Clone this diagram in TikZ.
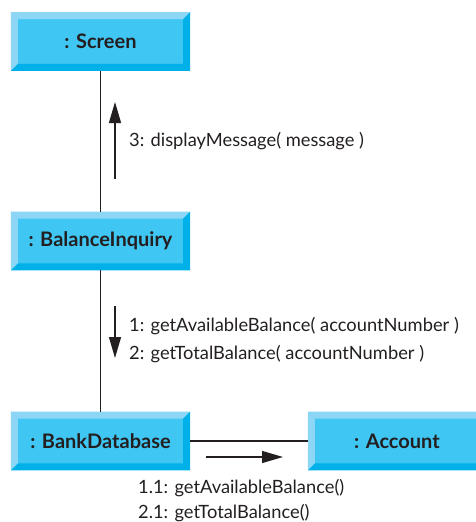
\documentclass[tikz,border=0pt]{standalone}
\usepackage{fontspec}
\setmainfont{Lato}
\usetikzlibrary{arrows.meta,calc}
\definecolor{bevlight}{HTML}{8ED6F6}
\definecolor{bevdark}{HTML}{00B0E8}
\definecolor{bevface}{HTML}{40C6F2}
\definecolor{txt}{HTML}{231F20}
\tikzset{
  obj/.style={draw=none, fill=bevface, inner sep=0pt, minimum width=179pt, minimum height=58.5pt, font=\fontsize{20}{22}\selectfont\bfseries, text=txt},
  conn/.style={line width=1.2pt, draw=txt},
  msgarrow/.style={line width=1.2pt, draw=txt, -{Triangle[length=21pt,width=12pt]}},
  msglabel/.style={anchor=west, inner sep=0pt, font=\fontsize{18.3}{28}\selectfont, text=txt, align=left},
  msglabelb/.style={msglabel, font=\fontsize{18.3}{25.5}\selectfont}
}
\newcommand\bevelit[1]{%
  \fill[bevlight] (#1.north west) -- (#1.north east) -- ([shift={(-7pt,-7pt)}]#1.north east) -- ([shift={(7pt,-7pt)}]#1.north west) -- cycle;
  \fill[bevlight] (#1.north west) -- (#1.south west) -- ([shift={(7pt,7pt)}]#1.south west) -- ([shift={(7pt,-7pt)}]#1.north west) -- cycle;
  \fill[bevdark] (#1.north east) -- (#1.south east) -- ([shift={(-7pt,7pt)}]#1.south east) -- ([shift={(-7pt,-7pt)}]#1.north east) -- cycle;
  \fill[bevdark] (#1.south west) -- (#1.south east) -- ([shift={(-7pt,7pt)}]#1.south east) -- ([shift={(7pt,7pt)}]#1.south west) -- cycle;
}
\begin{document}
\begin{tikzpicture}[x=1pt,y=-1pt]
\useasboundingbox (0,0) rectangle (476,522);
\begin{scope}
\clip (0,0) rectangle (476,522);
\node[obj] (screen) at (100.5,41.5) {};
\node[obj] (bi) at (100.5,241) {};
\node[obj] (bd) at (100.5,441) {};
\node[obj, minimum width=178pt] (acc) at (397,441) {};
\bevelit{screen}
\bevelit{bi}
\bevelit{bd}
\bevelit{acc}
\node[obj, fill=none] at (screen) {: Screen};
\node[obj, fill=none] at (bi) {: BalanceInquiry};
\node[obj, fill=none] at (bd) {: BankDatabase};
\node[obj, fill=none] at (acc) {: Account};
\end{scope}
\draw[conn] (screen.south) -- (bi.north);
\draw[conn] (bi.south) -- (bd.north);
\draw[conn] (bd.east) -- (acc.west);
\coordinate (a1s) at (115,179);
\coordinate (a1e) at (115,102);
\coordinate (a2s) at (115,306);
\coordinate (a2e) at (115,358);
\coordinate (a3s) at (206,457);
\coordinate (a3e) at (283,457);
\draw[msgarrow] (a1s) -- (a1e);
\draw[msgarrow] (a2s) -- (a2e);
\draw[msgarrow] (a3s) -- (a3e);
\node[msglabel] (l1) at (129,141) {3: displayMessage( message )};
\node[msglabel] (l2) at (129,340) {1: getAvailableBalance( accountNumber )\\2: getTotalBalance( accountNumber )};
\node[msglabelb] (l3) at (138,500.5) {1.1: getAvailableBalance()\\2.1: getTotalBalance()};
\end{tikzpicture}
\end{document}
